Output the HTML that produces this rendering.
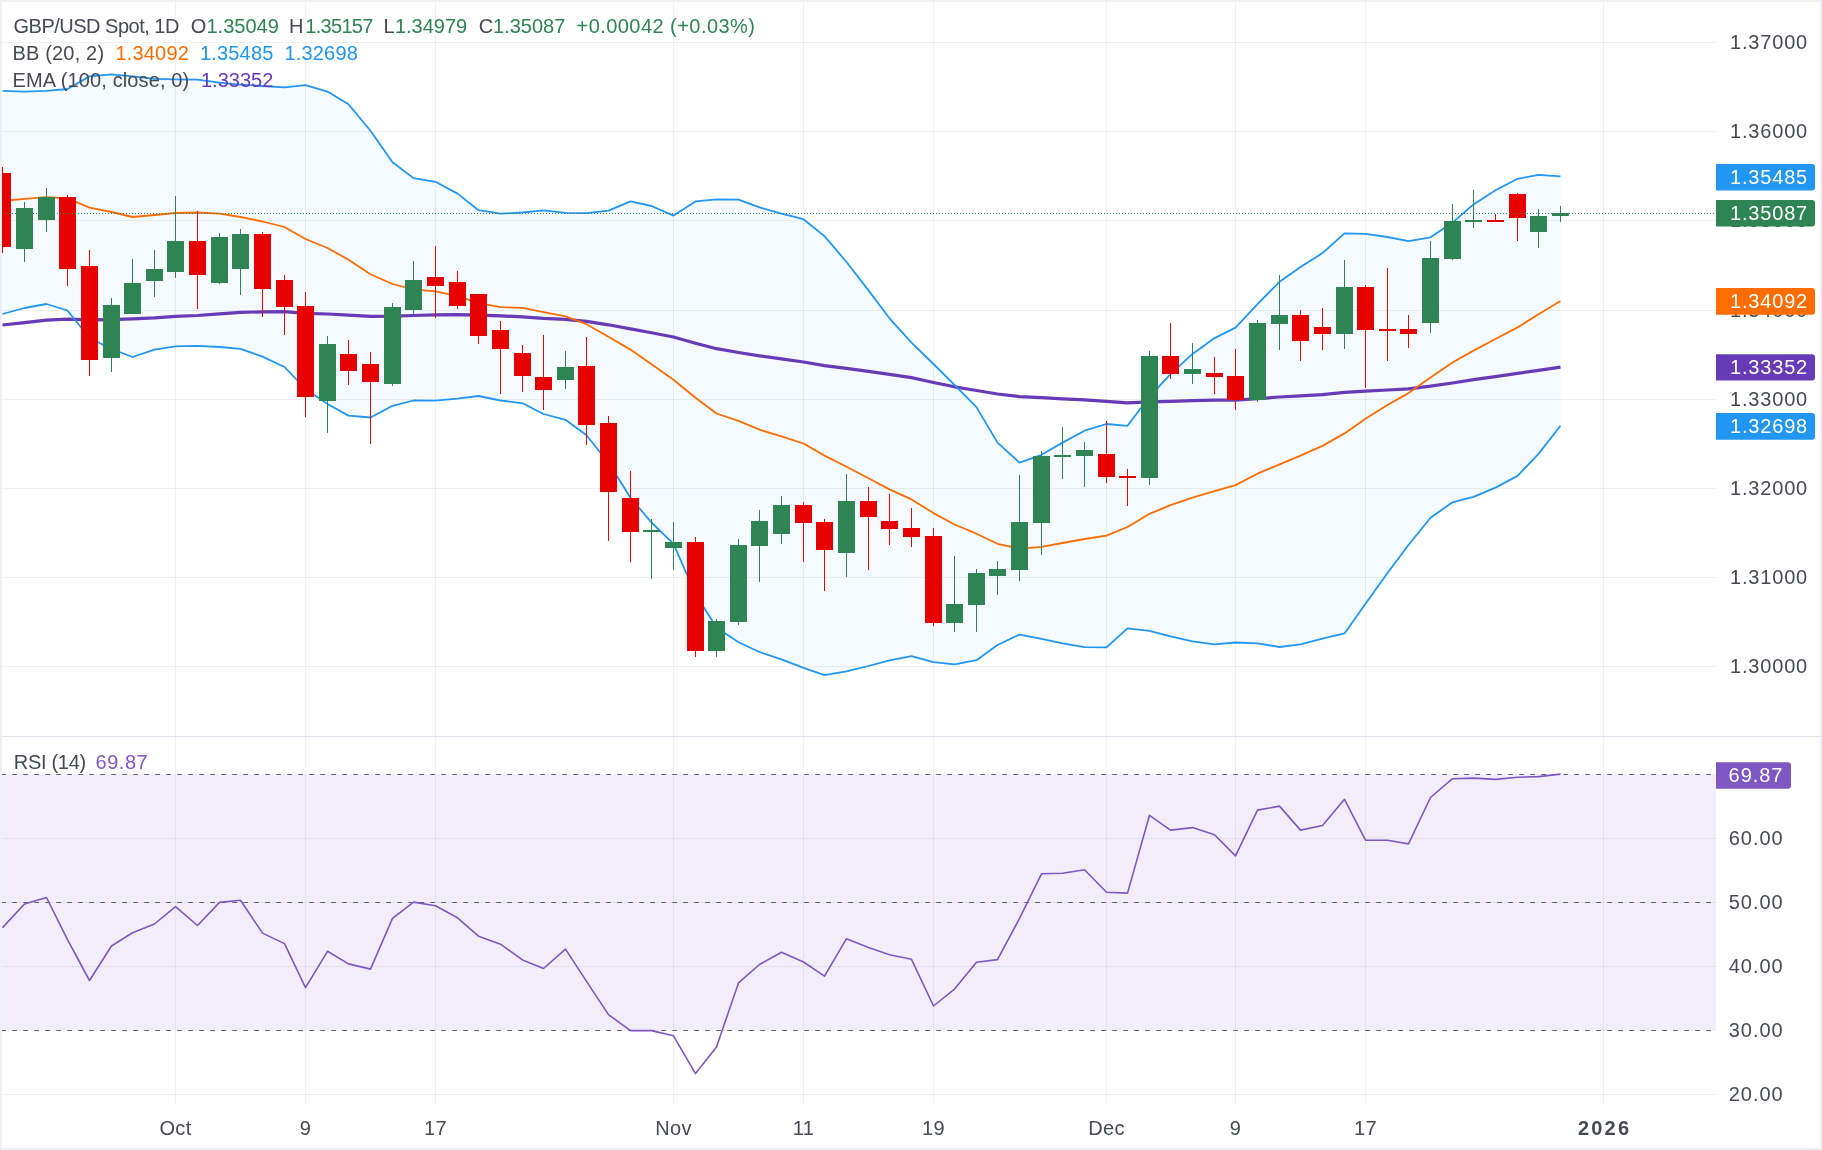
<!DOCTYPE html>
<html><head><meta charset="utf-8"><style>
html,body{margin:0;padding:0;background:#fff;width:1822px;height:1150px;overflow:hidden;font-family:"Liberation Sans",sans-serif}
</style></head><body><div style="position:relative;width:1822px;height:1150px">
<svg width="1822" height="1150" viewBox="0 0 1822 1150" style="position:absolute;left:0;top:0"><defs><clipPath id="cp"><rect x="0" y="0" width="1716" height="736"/></clipPath><clipPath id="cr"><rect x="0" y="737" width="1716" height="367"/></clipPath></defs><line x1="175.5" y1="0" x2="175.5" y2="1104" stroke="rgba(30,50,50,0.065)" stroke-width="1"/><line x1="305.5" y1="0" x2="305.5" y2="1104" stroke="rgba(30,50,50,0.065)" stroke-width="1"/><line x1="435.5" y1="0" x2="435.5" y2="1104" stroke="rgba(30,50,50,0.065)" stroke-width="1"/><line x1="673.5" y1="0" x2="673.5" y2="1104" stroke="rgba(30,50,50,0.065)" stroke-width="1"/><line x1="803.5" y1="0" x2="803.5" y2="1104" stroke="rgba(30,50,50,0.065)" stroke-width="1"/><line x1="933.5" y1="0" x2="933.5" y2="1104" stroke="rgba(30,50,50,0.065)" stroke-width="1"/><line x1="1106.5" y1="0" x2="1106.5" y2="1104" stroke="rgba(30,50,50,0.065)" stroke-width="1"/><line x1="1235.5" y1="0" x2="1235.5" y2="1104" stroke="rgba(30,50,50,0.065)" stroke-width="1"/><line x1="1365.5" y1="0" x2="1365.5" y2="1104" stroke="rgba(30,50,50,0.065)" stroke-width="1"/><line x1="1603.5" y1="0" x2="1603.5" y2="1104" stroke="rgba(30,50,50,0.065)" stroke-width="1"/><line x1="0" y1="666.5" x2="1716" y2="666.5" stroke="rgba(30,50,50,0.065)" stroke-width="1"/><line x1="0" y1="577.5" x2="1716" y2="577.5" stroke="rgba(30,50,50,0.065)" stroke-width="1"/><line x1="0" y1="488.5" x2="1716" y2="488.5" stroke="rgba(30,50,50,0.065)" stroke-width="1"/><line x1="0" y1="399.5" x2="1716" y2="399.5" stroke="rgba(30,50,50,0.065)" stroke-width="1"/><line x1="0" y1="310.5" x2="1716" y2="310.5" stroke="rgba(30,50,50,0.065)" stroke-width="1"/><line x1="0" y1="220.5" x2="1716" y2="220.5" stroke="rgba(30,50,50,0.065)" stroke-width="1"/><line x1="0" y1="131.5" x2="1716" y2="131.5" stroke="rgba(30,50,50,0.065)" stroke-width="1"/><line x1="0" y1="42.5" x2="1716" y2="42.5" stroke="rgba(30,50,50,0.065)" stroke-width="1"/><g clip-path="url(#cp)"><polygon points="2.5,90.8 24.5,91.6 46.5,90.8 67.5,89.0 89.5,76.4 111.5,74.4 132.5,76.4 154.5,78.9 175.5,79.4 197.5,79.7 219.5,82.7 240.5,84.7 262.5,86.0 284.5,87.3 305.5,85.2 327.5,91.6 348.5,104.2 370.5,130.7 392.5,162.2 413.5,178.1 435.5,181.8 457.5,193.6 478.5,210.2 500.5,213.7 522.5,212.5 543.5,210.4 565.5,212.9 586.5,213.2 608.5,210.7 630.5,201.3 651.5,206.0 673.5,215.6 695.5,201.4 716.5,199.4 738.5,199.6 759.5,207.4 781.5,213.6 803.5,219.2 824.5,236.1 846.5,262.0 868.5,290.4 889.5,318.3 911.5,342.7 933.5,364.0 954.5,384.8 976.5,407.1 997.5,442.6 1019.5,462.7 1041.5,454.8 1062.5,442.6 1084.5,430.7 1106.5,424.0 1127.5,425.8 1149.5,396.7 1170.5,374.1 1192.5,353.9 1214.5,338.1 1235.5,327.6 1257.5,304.1 1279.5,281.8 1300.5,266.9 1322.5,253.1 1344.5,233.4 1365.5,233.8 1387.5,237.0 1408.5,241.1 1430.5,237.3 1452.5,222.6 1473.5,204.4 1495.5,190.3 1517.5,178.8 1538.5,174.8 1560.5,176.4 1560.5,425.8 1538.5,453.9 1517.5,475.9 1495.5,487.6 1473.5,496.9 1452.5,502.3 1430.5,517.7 1408.5,545.0 1387.5,573.0 1365.5,603.7 1344.5,633.4 1322.5,638.7 1300.5,644.3 1279.5,647.0 1257.5,643.3 1235.5,642.5 1214.5,644.3 1192.5,641.4 1170.5,636.3 1149.5,630.8 1127.5,628.3 1106.5,647.4 1084.5,647.2 1062.5,643.3 1041.5,638.8 1019.5,634.6 997.5,645.0 976.5,660.2 954.5,664.3 933.5,662.2 911.5,656.1 889.5,660.4 868.5,666.0 846.5,671.4 824.5,675.2 803.5,667.8 781.5,659.3 759.5,652.0 738.5,642.2 716.5,627.5 695.5,594.2 673.5,543.8 651.5,522.5 630.5,497.8 608.5,462.8 586.5,435.2 565.5,419.8 543.5,414.0 522.5,403.3 500.5,400.5 478.5,396.0 457.5,398.7 435.5,400.7 413.5,400.5 392.5,405.8 370.5,417.5 348.5,415.6 327.5,404.0 305.5,389.0 284.5,367.0 262.5,356.6 240.5,348.8 219.5,347.0 197.5,345.9 175.5,346.3 154.5,349.7 132.5,357.0 111.5,349.0 89.5,338.0 67.5,310.5 46.5,304.0 24.5,308.0 2.5,314.0" fill="rgba(33,150,243,0.05)"/><polyline points="2.5,325.0 24.5,322.7 46.5,320.2 67.5,319.1 89.5,319.9 111.5,319.6 132.5,318.9 154.5,317.9 175.5,316.3 197.5,315.5 219.5,313.9 240.5,312.3 262.5,311.9 284.5,311.7 305.5,313.4 327.5,314.0 348.5,315.1 370.5,316.4 392.5,316.2 413.5,315.5 435.5,314.9 457.5,314.7 478.5,315.1 500.5,315.8 522.5,316.9 543.5,318.4 565.5,319.3 586.5,321.4 608.5,324.8 630.5,328.9 651.5,332.8 673.5,337.0 695.5,343.2 716.5,348.7 738.5,352.5 759.5,355.8 781.5,358.8 803.5,362.0 824.5,365.7 846.5,368.4 868.5,371.3 889.5,374.4 911.5,377.6 933.5,382.5 954.5,386.8 976.5,390.5 997.5,394.0 1019.5,396.6 1041.5,397.7 1062.5,398.8 1084.5,399.8 1106.5,401.4 1127.5,402.9 1149.5,401.9 1170.5,401.3 1192.5,400.7 1214.5,400.2 1235.5,400.2 1257.5,398.6 1279.5,397.0 1300.5,395.8 1322.5,394.6 1344.5,392.4 1365.5,391.2 1387.5,390.0 1408.5,388.8 1430.5,386.2 1452.5,383.0 1473.5,379.7 1495.5,376.6 1517.5,373.4 1538.5,370.3 1560.5,367.1" fill="none" stroke="#673ab7" stroke-width="3.2" stroke-linejoin="round"/><polyline points="2.5,201.0 24.5,198.9 46.5,197.1 67.5,198.3 89.5,207.7 111.5,212.0 132.5,217.0 154.5,215.0 175.5,213.0 197.5,212.5 219.5,213.6 240.5,217.0 262.5,221.5 284.5,227.0 305.5,239.0 327.5,248.0 348.5,259.7 370.5,274.3 392.5,284.0 413.5,289.3 435.5,291.3 457.5,296.2 478.5,303.1 500.5,307.1 522.5,307.9 543.5,312.2 565.5,316.4 586.5,324.2 608.5,336.8 630.5,349.6 651.5,364.3 673.5,379.7 695.5,397.8 716.5,413.5 738.5,420.9 759.5,429.7 781.5,436.4 803.5,443.5 824.5,455.6 846.5,466.7 868.5,478.2 889.5,489.4 911.5,499.4 933.5,513.1 954.5,524.5 976.5,533.7 997.5,543.8 1019.5,548.6 1041.5,546.8 1062.5,543.0 1084.5,539.0 1106.5,535.7 1127.5,527.0 1149.5,513.8 1170.5,505.2 1192.5,497.6 1214.5,491.2 1235.5,485.1 1257.5,473.7 1279.5,464.4 1300.5,455.6 1322.5,445.9 1344.5,433.4 1365.5,418.7 1387.5,405.0 1408.5,393.1 1430.5,377.5 1452.5,362.5 1473.5,350.6 1495.5,339.0 1517.5,327.4 1538.5,314.3 1560.5,301.1" fill="none" stroke="#ff6d00" stroke-width="1.8" stroke-linejoin="round"/><polyline points="2.5,90.8 24.5,91.6 46.5,90.8 67.5,89.0 89.5,76.4 111.5,74.4 132.5,76.4 154.5,78.9 175.5,79.4 197.5,79.7 219.5,82.7 240.5,84.7 262.5,86.0 284.5,87.3 305.5,85.2 327.5,91.6 348.5,104.2 370.5,130.7 392.5,162.2 413.5,178.1 435.5,181.8 457.5,193.6 478.5,210.2 500.5,213.7 522.5,212.5 543.5,210.4 565.5,212.9 586.5,213.2 608.5,210.7 630.5,201.3 651.5,206.0 673.5,215.6 695.5,201.4 716.5,199.4 738.5,199.6 759.5,207.4 781.5,213.6 803.5,219.2 824.5,236.1 846.5,262.0 868.5,290.4 889.5,318.3 911.5,342.7 933.5,364.0 954.5,384.8 976.5,407.1 997.5,442.6 1019.5,462.7 1041.5,454.8 1062.5,442.6 1084.5,430.7 1106.5,424.0 1127.5,425.8 1149.5,396.7 1170.5,374.1 1192.5,353.9 1214.5,338.1 1235.5,327.6 1257.5,304.1 1279.5,281.8 1300.5,266.9 1322.5,253.1 1344.5,233.4 1365.5,233.8 1387.5,237.0 1408.5,241.1 1430.5,237.3 1452.5,222.6 1473.5,204.4 1495.5,190.3 1517.5,178.8 1538.5,174.8 1560.5,176.4" fill="none" stroke="#2196f3" stroke-width="1.8" stroke-linejoin="round"/><polyline points="2.5,314.0 24.5,308.0 46.5,304.0 67.5,310.5 89.5,338.0 111.5,349.0 132.5,357.0 154.5,349.7 175.5,346.3 197.5,345.9 219.5,347.0 240.5,348.8 262.5,356.6 284.5,367.0 305.5,389.0 327.5,404.0 348.5,415.6 370.5,417.5 392.5,405.8 413.5,400.5 435.5,400.7 457.5,398.7 478.5,396.0 500.5,400.5 522.5,403.3 543.5,414.0 565.5,419.8 586.5,435.2 608.5,462.8 630.5,497.8 651.5,522.5 673.5,543.8 695.5,594.2 716.5,627.5 738.5,642.2 759.5,652.0 781.5,659.3 803.5,667.8 824.5,675.2 846.5,671.4 868.5,666.0 889.5,660.4 911.5,656.1 933.5,662.2 954.5,664.3 976.5,660.2 997.5,645.0 1019.5,634.6 1041.5,638.8 1062.5,643.3 1084.5,647.2 1106.5,647.4 1127.5,628.3 1149.5,630.8 1170.5,636.3 1192.5,641.4 1214.5,644.3 1235.5,642.5 1257.5,643.3 1279.5,647.0 1300.5,644.3 1322.5,638.7 1344.5,633.4 1365.5,603.7 1387.5,573.0 1408.5,545.0 1430.5,517.7 1452.5,502.3 1473.5,496.9 1495.5,487.6 1517.5,475.9 1538.5,453.9 1560.5,425.8" fill="none" stroke="#2196f3" stroke-width="1.8" stroke-linejoin="round"/><rect x="2" y="167" width="1" height="86" fill="#e60000"/><rect x="-6" y="173" width="17" height="74" fill="#e60000"/><rect x="24" y="202" width="1" height="60" fill="#2e8553"/><rect x="16" y="208" width="17" height="41" fill="#2e8553"/><rect x="46" y="188" width="1" height="44" fill="#2e8553"/><rect x="38" y="197" width="17" height="23" fill="#2e8553"/><rect x="67" y="195" width="1" height="91" fill="#e60000"/><rect x="59" y="197" width="17" height="72" fill="#e60000"/><rect x="89" y="250" width="1" height="126" fill="#e60000"/><rect x="81" y="266" width="17" height="94" fill="#e60000"/><rect x="111" y="298" width="1" height="74" fill="#2e8553"/><rect x="103" y="305" width="17" height="53" fill="#2e8553"/><rect x="132" y="259" width="1" height="55" fill="#2e8553"/><rect x="124" y="283" width="17" height="31" fill="#2e8553"/><rect x="154" y="250" width="1" height="47" fill="#2e8553"/><rect x="146" y="269" width="17" height="12" fill="#2e8553"/><rect x="175" y="196" width="1" height="82" fill="#2e8553"/><rect x="167" y="241" width="17" height="31" fill="#2e8553"/><rect x="197" y="211" width="1" height="98" fill="#e60000"/><rect x="189" y="241" width="17" height="34" fill="#e60000"/><rect x="219" y="233" width="1" height="51" fill="#2e8553"/><rect x="211" y="237" width="17" height="46" fill="#2e8553"/><rect x="240" y="229" width="1" height="66" fill="#2e8553"/><rect x="232" y="234" width="17" height="35" fill="#2e8553"/><rect x="262" y="232" width="1" height="85" fill="#e60000"/><rect x="254" y="234" width="17" height="55" fill="#e60000"/><rect x="284" y="275" width="1" height="60" fill="#e60000"/><rect x="276" y="280" width="17" height="27" fill="#e60000"/><rect x="305" y="292" width="1" height="125" fill="#e60000"/><rect x="297" y="306" width="17" height="91" fill="#e60000"/><rect x="327" y="336" width="1" height="97" fill="#2e8553"/><rect x="319" y="344" width="17" height="57" fill="#2e8553"/><rect x="348" y="340" width="1" height="45" fill="#e60000"/><rect x="340" y="354" width="17" height="17" fill="#e60000"/><rect x="370" y="352" width="1" height="92" fill="#e60000"/><rect x="362" y="364" width="17" height="18" fill="#e60000"/><rect x="392" y="303" width="1" height="83" fill="#2e8553"/><rect x="384" y="307" width="17" height="77" fill="#2e8553"/><rect x="413" y="261" width="1" height="53" fill="#2e8553"/><rect x="405" y="280" width="17" height="30" fill="#2e8553"/><rect x="435" y="246" width="1" height="72" fill="#e60000"/><rect x="427" y="277" width="17" height="9" fill="#e60000"/><rect x="457" y="271" width="1" height="38" fill="#e60000"/><rect x="449" y="282" width="17" height="24" fill="#e60000"/><rect x="478" y="294" width="1" height="50" fill="#e60000"/><rect x="470" y="294" width="17" height="42" fill="#e60000"/><rect x="500" y="321" width="1" height="73" fill="#e60000"/><rect x="492" y="330" width="17" height="19" fill="#e60000"/><rect x="522" y="345" width="1" height="47" fill="#e60000"/><rect x="514" y="353" width="17" height="23" fill="#e60000"/><rect x="543" y="335" width="1" height="75" fill="#e60000"/><rect x="535" y="377" width="17" height="13" fill="#e60000"/><rect x="565" y="351" width="1" height="38" fill="#2e8553"/><rect x="557" y="367" width="17" height="13" fill="#2e8553"/><rect x="586" y="337" width="1" height="108" fill="#e60000"/><rect x="578" y="366" width="17" height="59" fill="#e60000"/><rect x="608" y="416" width="1" height="125" fill="#e60000"/><rect x="600" y="423" width="17" height="69" fill="#e60000"/><rect x="630" y="471" width="1" height="91" fill="#e60000"/><rect x="622" y="498" width="17" height="34" fill="#e60000"/><rect x="651" y="519" width="1" height="60" fill="#2e8553"/><rect x="643" y="530" width="17" height="2" fill="#2e8553"/><rect x="673" y="522" width="1" height="48" fill="#2e8553"/><rect x="665" y="542" width="17" height="6" fill="#2e8553"/><rect x="695" y="537" width="1" height="120" fill="#e60000"/><rect x="687" y="542" width="17" height="109" fill="#e60000"/><rect x="716" y="619" width="1" height="38" fill="#2e8553"/><rect x="708" y="621" width="17" height="30" fill="#2e8553"/><rect x="738" y="539" width="1" height="86" fill="#2e8553"/><rect x="730" y="545" width="17" height="77" fill="#2e8553"/><rect x="759" y="510" width="1" height="72" fill="#2e8553"/><rect x="751" y="521" width="17" height="25" fill="#2e8553"/><rect x="781" y="496" width="1" height="48" fill="#2e8553"/><rect x="773" y="505" width="17" height="29" fill="#2e8553"/><rect x="803" y="502" width="1" height="60" fill="#e60000"/><rect x="795" y="505" width="17" height="18" fill="#e60000"/><rect x="824" y="519" width="1" height="72" fill="#e60000"/><rect x="816" y="522" width="17" height="28" fill="#e60000"/><rect x="846" y="474" width="1" height="103" fill="#2e8553"/><rect x="838" y="501" width="17" height="52" fill="#2e8553"/><rect x="868" y="487" width="1" height="83" fill="#e60000"/><rect x="860" y="501" width="17" height="16" fill="#e60000"/><rect x="889" y="494" width="1" height="51" fill="#e60000"/><rect x="881" y="521" width="17" height="8" fill="#e60000"/><rect x="911" y="508" width="1" height="39" fill="#e60000"/><rect x="903" y="528" width="17" height="9" fill="#e60000"/><rect x="933" y="528" width="1" height="98" fill="#e60000"/><rect x="925" y="536" width="17" height="87" fill="#e60000"/><rect x="954" y="556" width="1" height="76" fill="#2e8553"/><rect x="946" y="604" width="17" height="19" fill="#2e8553"/><rect x="976" y="569" width="1" height="63" fill="#2e8553"/><rect x="968" y="573" width="17" height="32" fill="#2e8553"/><rect x="997" y="561" width="1" height="34" fill="#2e8553"/><rect x="989" y="569" width="17" height="7" fill="#2e8553"/><rect x="1019" y="475" width="1" height="106" fill="#2e8553"/><rect x="1011" y="522" width="17" height="48" fill="#2e8553"/><rect x="1041" y="451" width="1" height="104" fill="#2e8553"/><rect x="1033" y="456" width="17" height="67" fill="#2e8553"/><rect x="1062" y="427" width="1" height="52" fill="#2e8553"/><rect x="1054" y="455" width="17" height="2" fill="#2e8553"/><rect x="1084" y="442" width="1" height="45" fill="#2e8553"/><rect x="1076" y="450" width="17" height="6" fill="#2e8553"/><rect x="1106" y="421" width="1" height="62" fill="#e60000"/><rect x="1098" y="454" width="17" height="23" fill="#e60000"/><rect x="1127" y="469" width="1" height="37" fill="#e60000"/><rect x="1119" y="476" width="17" height="2" fill="#e60000"/><rect x="1149" y="351" width="1" height="134" fill="#2e8553"/><rect x="1141" y="356" width="17" height="122" fill="#2e8553"/><rect x="1170" y="323" width="1" height="56" fill="#e60000"/><rect x="1162" y="356" width="17" height="18" fill="#e60000"/><rect x="1192" y="343" width="1" height="41" fill="#2e8553"/><rect x="1184" y="369" width="17" height="5" fill="#2e8553"/><rect x="1214" y="357" width="1" height="37" fill="#e60000"/><rect x="1206" y="373" width="17" height="4" fill="#e60000"/><rect x="1235" y="349" width="1" height="61" fill="#e60000"/><rect x="1227" y="376" width="17" height="24" fill="#e60000"/><rect x="1257" y="320" width="1" height="82" fill="#2e8553"/><rect x="1249" y="323" width="17" height="77" fill="#2e8553"/><rect x="1279" y="275" width="1" height="75" fill="#2e8553"/><rect x="1271" y="315" width="17" height="9" fill="#2e8553"/><rect x="1300" y="310" width="1" height="51" fill="#e60000"/><rect x="1292" y="315" width="17" height="26" fill="#e60000"/><rect x="1322" y="308" width="1" height="42" fill="#e60000"/><rect x="1314" y="327" width="17" height="7" fill="#e60000"/><rect x="1344" y="260" width="1" height="89" fill="#2e8553"/><rect x="1336" y="287" width="17" height="47" fill="#2e8553"/><rect x="1365" y="285" width="1" height="103" fill="#e60000"/><rect x="1357" y="287" width="17" height="43" fill="#e60000"/><rect x="1387" y="268" width="1" height="93" fill="#e60000"/><rect x="1379" y="329" width="17" height="2" fill="#e60000"/><rect x="1408" y="315" width="1" height="33" fill="#e60000"/><rect x="1400" y="329" width="17" height="5" fill="#e60000"/><rect x="1430" y="241" width="1" height="92" fill="#2e8553"/><rect x="1422" y="258" width="17" height="65" fill="#2e8553"/><rect x="1452" y="204" width="1" height="56" fill="#2e8553"/><rect x="1444" y="221" width="17" height="38" fill="#2e8553"/><rect x="1473" y="190" width="1" height="38" fill="#2e8553"/><rect x="1465" y="220" width="17" height="2" fill="#2e8553"/><rect x="1495" y="214" width="1" height="7" fill="#e60000"/><rect x="1487" y="220" width="17" height="2" fill="#e60000"/><rect x="1517" y="193" width="1" height="48" fill="#e60000"/><rect x="1509" y="194" width="17" height="24" fill="#e60000"/><rect x="1538" y="209" width="1" height="39" fill="#2e8553"/><rect x="1530" y="216" width="17" height="16" fill="#2e8553"/><rect x="1560" y="206" width="1" height="16" fill="#2e8553"/><rect x="1552" y="213" width="17" height="3" fill="#2e8553"/><line x1="0" y1="213.5" x2="1716" y2="213.5" stroke="#2e8553" stroke-width="1" stroke-dasharray="1 2"/></g><line x1="0" y1="736.5" x2="1822" y2="736.5" stroke="#e0e3eb" stroke-width="1"/><g clip-path="url(#cr)"><rect x="0" y="774" width="1716" height="256" fill="rgba(126,87,194,0.1)"/><line x1="0" y1="838.5" x2="1716" y2="838.5" stroke="rgba(30,50,50,0.065)" stroke-width="1"/><line x1="0" y1="902.5" x2="1716" y2="902.5" stroke="rgba(30,50,50,0.065)" stroke-width="1"/><line x1="0" y1="966.5" x2="1716" y2="966.5" stroke="rgba(30,50,50,0.065)" stroke-width="1"/><line x1="0" y1="1030.5" x2="1716" y2="1030.5" stroke="rgba(30,50,50,0.065)" stroke-width="1"/><line x1="0" y1="1094.5" x2="1716" y2="1094.5" stroke="rgba(30,50,50,0.065)" stroke-width="1"/><line x1="0" y1="774.5" x2="1716" y2="774.5" stroke="#5d606b" stroke-width="1" stroke-dasharray="4.6 6.4" stroke-dashoffset="-1.3"/><line x1="0" y1="902.5" x2="1716" y2="902.5" stroke="#5d606b" stroke-width="1" stroke-dasharray="4.6 6.4" stroke-dashoffset="-1.3"/><line x1="0" y1="1030.5" x2="1716" y2="1030.5" stroke="#5d606b" stroke-width="1" stroke-dasharray="4.6 6.4" stroke-dashoffset="-1.3"/><polyline points="2.5,927.6 24.5,904.0 46.5,897.5 67.5,939.6 89.5,980.5 111.5,946.0 132.5,932.8 154.5,924.0 175.5,906.7 197.5,925.5 219.5,902.4 240.5,900.3 262.5,933.1 284.5,943.6 305.5,987.6 327.5,951.3 348.5,963.9 370.5,969.1 392.5,918.4 413.5,902.1 435.5,905.8 457.5,917.8 478.5,936.2 500.5,944.2 522.5,959.9 543.5,968.5 565.5,949.1 586.5,981.4 608.5,1014.6 630.5,1030.6 651.5,1030.6 673.5,1035.8 695.5,1073.6 716.5,1046.9 738.5,982.9 759.5,964.5 781.5,952.2 803.5,962.0 824.5,976.2 846.5,938.7 868.5,947.6 889.5,954.7 911.5,959.3 933.5,1006.0 954.5,989.1 976.5,962.3 997.5,959.6 1019.5,918.4 1041.5,873.8 1062.5,873.2 1084.5,869.8 1106.5,892.2 1127.5,893.1 1149.5,815.3 1170.5,830.1 1192.5,827.6 1214.5,834.7 1235.5,855.9 1257.5,810.1 1279.5,806.1 1300.5,830.1 1322.5,825.5 1344.5,799.3 1365.5,840.2 1387.5,840.2 1408.5,843.9 1430.5,797.5 1452.5,778.7 1473.5,778.1 1495.5,779.4 1517.5,777.2 1538.5,776.6 1560.5,774.1" fill="none" stroke="#7e57c2" stroke-width="1.6" stroke-linejoin="round"/></g><rect x="1" y="1" width="1820" height="1148" fill="none" stroke="#eef0f4" stroke-width="2"/></svg>
<svg width="1822" height="1150" style="position:absolute;left:0;top:0;will-change:transform;font-family:'Liberation Sans',sans-serif"><text x="13.50" y="33.00" fill="#474a53" font-size="20" text-anchor="start" font-weight="normal" letter-spacing="-0.5">GBP/USD Spot, 1D</text><text x="190.70" y="33.00" fill="#474a53" font-size="20" text-anchor="start" font-weight="normal" letter-spacing="0">O</text><text x="206.50" y="33.00" fill="#2e8553" font-size="20" text-anchor="start" font-weight="normal" letter-spacing="0">1.35049</text><text x="288.90" y="33.00" fill="#474a53" font-size="20" text-anchor="start" font-weight="normal" letter-spacing="0">H</text><text x="305.30" y="33.00" fill="#2e8553" font-size="20" text-anchor="start" font-weight="normal" letter-spacing="-0.7">1.35157</text><text x="383.40" y="33.00" fill="#474a53" font-size="20" text-anchor="start" font-weight="normal" letter-spacing="0">L</text><text x="394.90" y="33.00" fill="#2e8553" font-size="20" text-anchor="start" font-weight="normal" letter-spacing="0">1.34979</text><text x="478.80" y="33.00" fill="#474a53" font-size="20" text-anchor="start" font-weight="normal" letter-spacing="0">C</text><text x="493.00" y="33.00" fill="#2e8553" font-size="20" text-anchor="start" font-weight="normal" letter-spacing="0">1.35087</text><text x="576.50" y="33.00" fill="#2e8553" font-size="20" text-anchor="start" font-weight="normal" letter-spacing="0.45">+0.00042 (+0.03%)</text><text x="12.50" y="59.80" fill="#474a53" font-size="20" text-anchor="start" font-weight="normal" letter-spacing="0.17">BB (20, 2)</text><text x="115.40" y="59.80" fill="#ff6d00" font-size="20" text-anchor="start" font-weight="normal" letter-spacing="0.2">1.34092</text><text x="199.90" y="59.80" fill="#2196f3" font-size="20" text-anchor="start" font-weight="normal" letter-spacing="0.2">1.35485</text><text x="284.40" y="59.80" fill="#2196f3" font-size="20" text-anchor="start" font-weight="normal" letter-spacing="0.2">1.32698</text><text x="12.50" y="87.20" fill="#474a53" font-size="20" text-anchor="start" font-weight="normal" letter-spacing="0.12">EMA (100, close, 0)</text><text x="201.00" y="87.20" fill="#673ab7" font-size="20" text-anchor="start" font-weight="normal" letter-spacing="0">1.33352</text><text x="13.80" y="769.20" fill="#474a53" font-size="20" text-anchor="start" font-weight="normal" letter-spacing="-0.3">RSI (14)</text><text x="95.60" y="769.20" fill="#7e57c2" font-size="20" text-anchor="start" font-weight="normal" letter-spacing="0.5">69.87</text><text x="1730.10" y="673.40" fill="#474a53" font-size="20" text-anchor="start" font-weight="normal" letter-spacing="0.8">1.30000</text><text x="1730.10" y="584.40" fill="#474a53" font-size="20" text-anchor="start" font-weight="normal" letter-spacing="0.8">1.31000</text><text x="1730.10" y="495.40" fill="#474a53" font-size="20" text-anchor="start" font-weight="normal" letter-spacing="0.8">1.32000</text><text x="1730.10" y="406.40" fill="#474a53" font-size="20" text-anchor="start" font-weight="normal" letter-spacing="0.8">1.33000</text><text x="1730.10" y="316.80" fill="#474a53" font-size="20" text-anchor="start" font-weight="normal" letter-spacing="0.8">1.34000</text><text x="1730.10" y="226.80" fill="#474a53" font-size="20" text-anchor="start" font-weight="normal" letter-spacing="0.8">1.35000</text><text x="1730.10" y="138.40" fill="#474a53" font-size="20" text-anchor="start" font-weight="normal" letter-spacing="0.8">1.36000</text><text x="1730.10" y="49.40" fill="#474a53" font-size="20" text-anchor="start" font-weight="normal" letter-spacing="0.8">1.37000</text><path d="M1716 164 H1812 Q1815 164 1815 167 V187.6 Q1815 190.6 1812 190.6 H1716 Z" fill="#2196f3"/><text x="1730.10" y="183.70" fill="#ffffff" font-size="20" text-anchor="start" font-weight="normal" letter-spacing="0.8">1.35485</text><path d="M1716 200 H1812 Q1815 200 1815 203 V223.5 Q1815 226.5 1812 226.5 H1716 Z" fill="#2e8553"/><text x="1730.10" y="219.65" fill="#ffffff" font-size="20" text-anchor="start" font-weight="normal" letter-spacing="0.8">1.35087</text><path d="M1716 288.1 H1812 Q1815 288.1 1815 291.1 V311.8 Q1815 314.8 1812 314.8 H1716 Z" fill="#ff6d00"/><text x="1730.10" y="307.85" fill="#ffffff" font-size="20" text-anchor="start" font-weight="normal" letter-spacing="0.8">1.34092</text><path d="M1716 354.2 H1812 Q1815 354.2 1815 357.2 V377.6 Q1815 380.6 1812 380.6 H1716 Z" fill="#673ab7"/><text x="1730.10" y="373.80" fill="#ffffff" font-size="20" text-anchor="start" font-weight="normal" letter-spacing="0.8">1.33352</text><path d="M1716 413.1 H1812 Q1815 413.1 1815 416.1 V436.7 Q1815 439.7 1812 439.7 H1716 Z" fill="#2196f3"/><text x="1730.10" y="432.80" fill="#ffffff" font-size="20" text-anchor="start" font-weight="normal" letter-spacing="0.8">1.32698</text><text x="1728.80" y="845.20" fill="#474a53" font-size="20" text-anchor="start" font-weight="normal" letter-spacing="0.95">60.00</text><text x="1728.80" y="909.20" fill="#474a53" font-size="20" text-anchor="start" font-weight="normal" letter-spacing="0.95">50.00</text><text x="1728.80" y="973.20" fill="#474a53" font-size="20" text-anchor="start" font-weight="normal" letter-spacing="0.95">40.00</text><text x="1728.80" y="1037.20" fill="#474a53" font-size="20" text-anchor="start" font-weight="normal" letter-spacing="0.95">30.00</text><text x="1728.80" y="1101.20" fill="#474a53" font-size="20" text-anchor="start" font-weight="normal" letter-spacing="0.95">20.00</text><path d="M1716 762.2 H1788 Q1791 762.2 1791 765.2 V785.7 Q1791 788.7 1788 788.7 H1716 Z" fill="#7e57c2"/><text x="1728.60" y="781.85" fill="#ffffff" font-size="20" text-anchor="start" font-weight="normal" letter-spacing="0.95">69.87</text><text x="175.50" y="1135.20" fill="#474a53" font-size="20" text-anchor="middle" font-weight="normal" letter-spacing="0.3">Oct</text><text x="305.50" y="1135.20" fill="#474a53" font-size="20" text-anchor="middle" font-weight="normal" letter-spacing="0.3">9</text><text x="435.50" y="1135.20" fill="#474a53" font-size="20" text-anchor="middle" font-weight="normal" letter-spacing="0.3">17</text><text x="673.50" y="1135.20" fill="#474a53" font-size="20" text-anchor="middle" font-weight="normal" letter-spacing="0.3">Nov</text><text x="803.50" y="1135.20" fill="#474a53" font-size="20" text-anchor="middle" font-weight="normal" letter-spacing="0.3">11</text><text x="933.50" y="1135.20" fill="#474a53" font-size="20" text-anchor="middle" font-weight="normal" letter-spacing="0.3">19</text><text x="1106.50" y="1135.20" fill="#474a53" font-size="20" text-anchor="middle" font-weight="normal" letter-spacing="0.3">Dec</text><text x="1235.50" y="1135.20" fill="#474a53" font-size="20" text-anchor="middle" font-weight="normal" letter-spacing="0.3">9</text><text x="1365.50" y="1135.20" fill="#474a53" font-size="20" text-anchor="middle" font-weight="normal" letter-spacing="0.3">17</text><text x="1604.60" y="1135.20" fill="#474a53" font-size="20" text-anchor="middle" font-weight="bold" letter-spacing="2.2">2026</text></svg>
</div></body></html>
